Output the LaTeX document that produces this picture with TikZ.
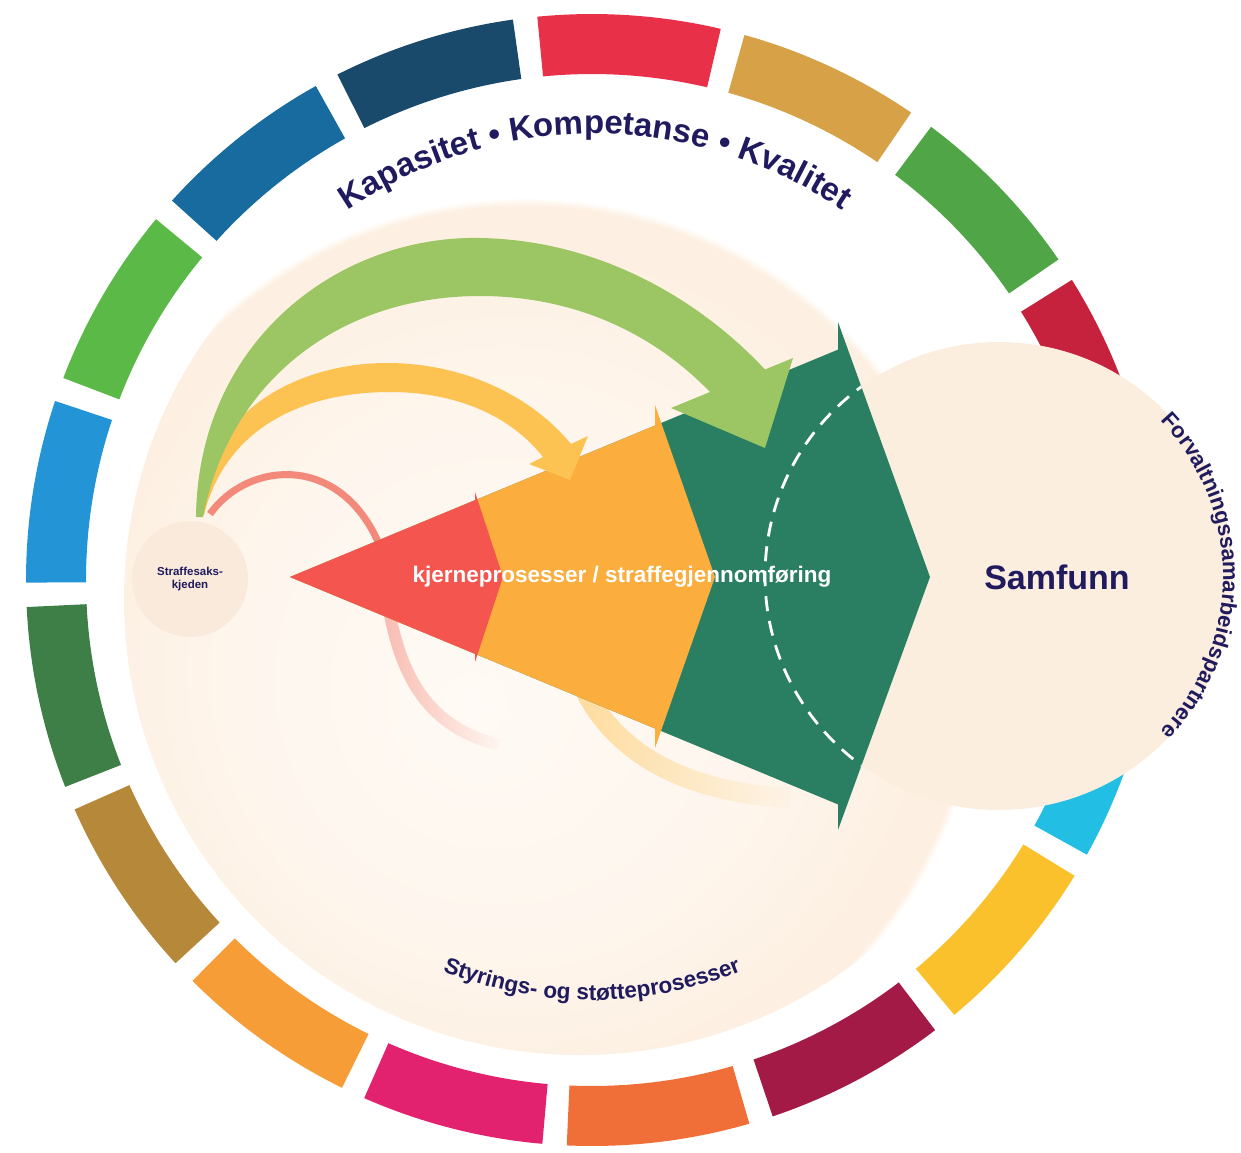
\documentclass[tikz,border=0pt]{standalone}
\usepackage{fontspec}
\setmainfont{Liberation Sans}
\usetikzlibrary{calc,decorations.text,fadings}

\definecolor{navy}{HTML}{1F1B5E}
\definecolor{peachA}{HTML}{FDF0E2}
\definecolor{peachB}{HTML}{FFFAF5}
\definecolor{peachC}{HTML}{FCEEDF}
\definecolor{peachD}{HTML}{FAEADB}
\definecolor{redarrow}{HTML}{F4554F}
\definecolor{orangearrow}{HTML}{FBAD3D}
\definecolor{greenarrow}{HTML}{2A7F62}
\definecolor{lgreen}{HTML}{9CC563}
\definecolor{yellowarc}{HTML}{FDC352}
\definecolor{salmon}{HTML}{F3897A}

\definecolor{sdg1}{HTML}{E83049}
\definecolor{sdg2}{HTML}{D7A148}
\definecolor{sdg3}{HTML}{50A547}
\definecolor{sdg4}{HTML}{C6213D}
\definecolor{sdg5}{HTML}{FF3A21}
\definecolor{sdg6}{HTML}{23BEE3}
\definecolor{sdg7}{HTML}{FBC12D}
\definecolor{sdg8}{HTML}{A21A45}
\definecolor{sdg9}{HTML}{F06E38}
\definecolor{sdg10}{HTML}{E2226F}
\definecolor{sdg11}{HTML}{F79D38}
\definecolor{sdg12}{HTML}{B6883A}
\definecolor{sdg13}{HTML}{3E7F48}
\definecolor{sdg14}{HTML}{2394D5}
\definecolor{sdg15}{HTML}{5BBA47}
\definecolor{sdg16}{HTML}{186B9E}
\definecolor{sdg17}{HTML}{1A4A6B}

\pgfdeclareradialshading{peachdisc}{\pgfpoint{-6bp}{-6bp}}{%
  color(0bp)=(peachB); color(14bp)=(peachB!60!peachA); color(23bp)=(peachA);
  color(24.6bp)=(peachA); color(25bp)=(white); color(50bp)=(white)}

\tikzfading[name=fadeaway, left color=transparent!45, right color=transparent!100]

\tikzset{
  curvetext/.style={decorate, decoration={text along path, text align=center, text color=navy}},
  roundlabel/.style={circle, inner sep=0pt, fill=peachC},
  whitelabel/.style={text=white, font=\bfseries\fontsize{22.5}{24}\selectfont, inner sep=0pt},
}

\begin{document}
\begin{tikzpicture}[x=1pt,y=-1pt]
\useasboundingbox (0,0) rectangle (1241,1152);

% background disc
\shade[shading=peachdisc] (580,599) circle[radius=456];

% SDG ring
\coordinate (ringc) at (592,580);
\foreach \k in {1,...,17}{
  \pgfmathsetmacro\ang{-86.2+(\k-1)*21.176}
  \pgfmathsetmacro\a{\ang-9.35}
  \pgfmathsetmacro\b{\ang+9.35}
  \fill[sdg\k] (ringc) ++(\a:566) arc[start angle=\a,end angle=\b,radius=566]
     -- ($(ringc)+(\b:506)$) arc[start angle=\b,end angle=\a,radius=506] -- cycle;
}

% circles
\node[roundlabel, fill=peachD, minimum size=116pt, align=center,
      font=\bfseries\fontsize{11.5}{13.5}\selectfont, text=navy] (chain) at (190,579) {Straffesaks-\\kjeden};
\node[roundlabel, minimum size=468pt] (samfunn) at (999,576) {};

% faded continuations behind the arrows
\draw[line width=12, draw=salmon, path fading=fadeaway] (386,590) .. controls (398,680) and (430,728) .. (500,745);
\draw[line width=20, draw=yellowarc, path fading=fadeaway] (580,680) .. controls (610,750) and (680,792) .. (790,798);
% salmon arc (goes behind the red arrow)
\draw[line width=7, draw=salmon] (210,514) .. controls (250,458) and (350,452) .. (385,560);

% main chevrons
\fill[greenarrow] (290,577) -- (838,349.6) -- (838,322) -- (930,577) -- (838,830) -- (838,804.4) -- cycle;
\begin{scope}
  \clip (290,577) -- (838,349.6) -- (838,322) -- (930,577) -- (838,830) -- (838,804.4) -- cycle;
  \draw[white, line width=2.8, dash pattern=on 15pt off 10pt] (samfunn.center) circle[radius=234];
\end{scope}
\fill[orangearrow] (290,577) -- (655,425.5) -- (655,405) -- (715,577) -- (655,748) -- (655,728.5) -- cycle;
\fill[redarrow] (290,577) -- (475,500.2) -- (475,492) -- (503,577) -- (475,662) -- (475,653.8) -- cycle;

% yellow curved arrow
\fill[yellowarc] (197,515) .. controls (205,410) and (300,362) .. (390,363)
   .. controls (470,364) and (535,400) .. (571,444)
   -- (588,436) -- (570,480) -- (529,464) -- (543,457)
   .. controls (510,415) and (455,392) .. (390,392)
   .. controls (300,392) and (225,430) .. (204,515) -- cycle;

% light green curved arrow
\fill[lgreen] (196,517) .. controls (198,340) and (340,235) .. (480,238)
   .. controls (600,240) and (700,300) .. (765,369.5)
   -- (793,358) -- (765,448) -- (671,408) -- (710,392)
   .. controls (650,330) and (570,296) .. (480,296)
   .. controls (340,296) and (230,380) .. (203,517) -- cycle;

% labels
\node[whitelabel] (core) at (622,577) {kjerneprosesser / straffegjennomføring};
\node[text=navy, font=\bfseries\fontsize{34}{36}\selectfont, inner sep=0pt] (samfunnlabel) at (1057,577) {Samfunn};

\path[curvetext, decoration={text={|\bfseries\fontsize{33}{35}\selectfont|Kapasitet  •  Kompetanse  •  Kvalitet}}]
  (595,574) ++(-160:440) arc[start angle=-160, end angle=-20, radius=440];
\path[curvetext, decoration={text={|\bfseries\fontsize{22.5}{24}\selectfont|Styrings- og støtteprosesser}}]
  (592,600) ++(-230:400) arc[start angle=-230, end angle=-310, radius=400];
\path[curvetext, decoration={text={|\bfseries\fontsize{22}{24}\selectfont|Forvaltningssamarbeidspartnere}}]
  (samfunn.center) ++(-56:224) arc[start angle=-56, end angle=56, radius=224];
\end{tikzpicture}
\end{document}
